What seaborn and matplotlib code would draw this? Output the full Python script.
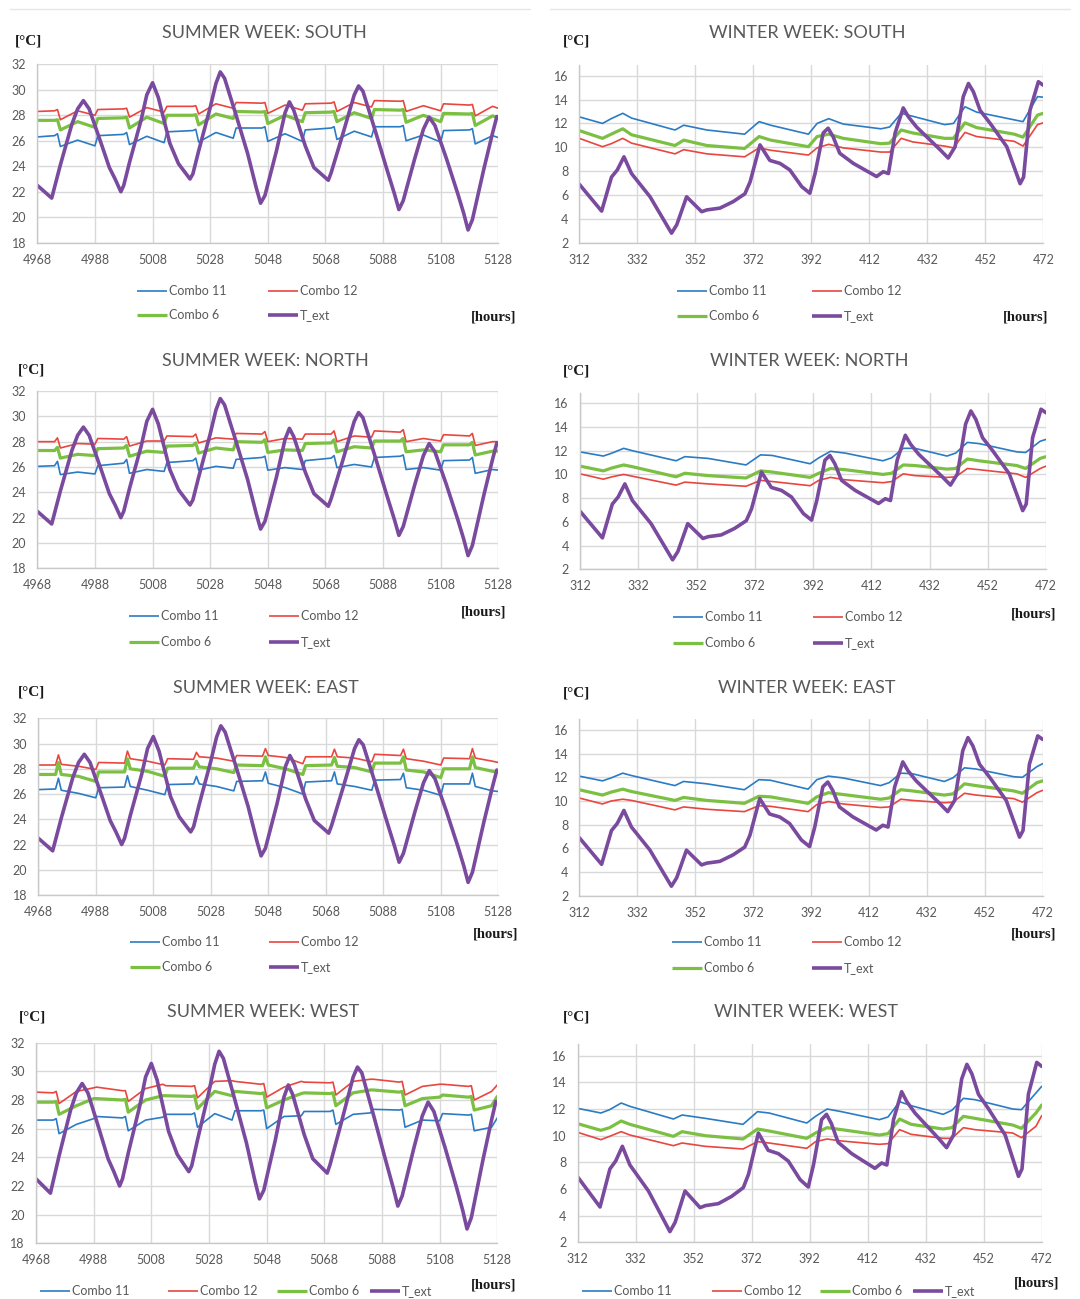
import matplotlib
matplotlib.use("Agg")
import matplotlib.pyplot as plt
from matplotlib.lines import Line2D
import seaborn as sns

sns.set_theme(style="white")
plt.rcParams["font.family"] = ["Lato", "DejaVu Sans"]

# ---------------------------------------------------------------- data
# Outdoor temperature, summer week (hour, degC)
SUMMER_EXT_HOURS = [4968, 4973, 4976, 4980, 4982, 4984, 4986, 4990, 4993, 4995,
                    4997, 4998, 5000, 5004, 5006, 5008, 5010, 5014, 5017, 5019,
                    5021, 5022, 5024, 5028, 5030, 5031.5, 5033, 5037, 5041, 5044,
                    5045.5, 5047, 5051, 5054, 5055.5, 5057, 5061, 5064, 5067, 5069,
                    5070, 5074, 5078, 5079.5, 5081, 5085, 5089, 5092, 5093.5, 5095,
                    5099, 5102, 5104, 5106, 5110, 5114, 5116, 5117.5, 5119, 5123,
                    5126, 5127.5, 5128]
SUMMER_EXT_TEMP = [22.5, 21.5, 24.1, 27.3, 28.5, 29.15, 28.5, 25.9, 23.9, 23.0,
                   22.0, 22.5, 24.3, 27.6, 29.6, 30.55, 29.4, 25.8, 24.2, 23.6,
                   23.0, 23.4, 25.2, 28.6, 30.5, 31.4, 30.9, 28.0, 25.0, 22.3,
                   21.1, 21.7, 25.2, 28.2, 29.05, 28.4, 25.6, 23.9, 23.3, 22.9,
                   23.5, 26.5, 29.6, 30.3, 29.9, 27.0, 24.0, 21.8, 20.6, 21.3,
                   24.6, 26.9, 27.85, 27.2, 24.6, 21.8, 20.3, 19.0, 19.8, 23.8,
                   26.6, 27.9, 27.8]

# Outdoor temperature, winter week (hour, degC)
WINTER_EXT_HOURS = [312, 319.7, 323.1, 325.1, 327.4, 330, 336.4, 343.8, 345.6, 349,
                    354.2, 356, 360.5, 365.1, 369.1, 370.9, 374.3, 377.7, 381.2, 384.6,
                    388.7, 391.5, 393.3, 396.1, 397.8, 399.5, 401.8, 406.5, 414.5, 416.8,
                    418.6, 420.9, 423.7, 425.5, 428.3, 436.4, 439.2, 441.6, 444.4, 446.2,
                    447.9, 450.2, 453.7, 459.4, 464, 465.2, 467.4, 470.3, 472]
WINTER_EXT_TEMP = [6.9, 4.65, 7.5, 8.1, 9.2, 7.8, 5.85, 2.8, 3.5, 5.85,
                   4.6, 4.75, 4.9, 5.45, 6.1, 7.1, 10.2, 8.9, 8.65, 8.1,
                   6.7, 6.15, 7.8, 11.2, 11.6, 10.9, 9.5, 8.65, 7.55, 7.95,
                   7.8, 11.2, 13.3, 12.55, 11.7, 9.8, 9.1, 10.05, 14.25, 15.35,
                   14.65, 13.1, 12.0, 10.05, 6.95, 7.5, 13.1, 15.5, 15.2]

# Indoor temperatures are sampled at these hours
SUMMER_HOURS = [4968,
                4974, 4975, 4976, 4982, 4988, 4989,
                4998, 4999, 5000, 5006, 5012, 5013,
                5022, 5023, 5024, 5030, 5036, 5037,
                5046, 5047, 5048, 5054, 5060, 5061,
                5070, 5071, 5072, 5078, 5084, 5085,
                5094, 5095, 5096, 5102, 5108, 5109,
                5118, 5119, 5120, 5126, 5128]
WINTER_HOURS = [312, 320, 323, 327, 330, 345, 348, 356, 369, 374, 378, 391, 394,
                398, 403, 416, 419, 423, 427, 438, 441, 445, 449, 462, 465, 470, 472]

# Summer, south
summer_south_c11 = [26.3, 26.4, 26.55, 25.55, 26.05, 25.6, 26.4, 26.5, 26.65, 25.7, 26.35, 25.85, 26.7,
                    26.8, 26.9, 25.9, 26.65, 26.2, 27.0, 27.0, 27.1, 25.95, 26.55, 25.95, 26.85,
                    27.0, 27.1, 26.1, 26.75, 26.3, 27.1, 27.1, 27.2, 26.0, 26.45, 25.9, 26.8,
                    26.85, 26.95, 25.75, 26.4, 26.25]
summer_south_c12 = [28.3, 28.35, 28.45, 27.65, 28.35, 28.0, 28.45, 28.5, 28.55, 27.85, 28.6, 28.25, 28.7,
                    28.7, 28.75, 28.1, 28.9, 28.55, 29.0, 28.95, 29.0, 28.15, 28.8, 28.4, 28.9,
                    28.95, 29.05, 28.3, 29.0, 28.65, 29.15, 29.1, 29.15, 28.3, 28.75, 28.35, 28.9,
                    28.8, 28.85, 27.95, 28.7, 28.55]
summer_south_c6 = [27.6, 27.6, 27.65, 26.85, 27.5, 27.05, 27.75, 27.8, 27.85, 27.0, 27.85, 27.35, 28.0,
                   28.0, 28.05, 27.25, 28.1, 27.75, 28.3, 28.25, 28.3, 27.35, 28.0, 27.5, 28.2,
                   28.25, 28.3, 27.5, 28.2, 27.75, 28.45, 28.4, 28.45, 27.45, 28.0, 27.5, 28.15,
                   28.1, 28.15, 27.2, 27.95, 27.8]

# Summer, north
summer_north_c11 = [26.05, 26.1, 26.45, 25.4, 25.6, 25.45, 26.1, 26.3, 26.6, 25.5, 25.8, 25.65, 26.35,
                    26.5, 26.7, 25.75, 26.05, 25.9, 26.6, 26.75, 26.85, 25.75, 25.95, 25.8, 26.5,
                    26.7, 26.9, 25.95, 26.2, 26.0, 26.75, 26.85, 26.95, 25.8, 25.95, 25.75, 26.5,
                    26.55, 26.75, 25.5, 25.8, 25.75]
summer_north_c12 = [28.0, 28.0, 28.3, 27.5, 27.85, 27.8, 28.25, 28.2, 28.4, 27.65, 28.05, 28.05, 28.45,
                    28.4, 28.6, 27.9, 28.3, 28.2, 28.65, 28.6, 28.8, 28.0, 28.25, 28.2, 28.6,
                    28.6, 28.85, 28.0, 28.45, 28.35, 28.85, 28.75, 28.95, 28.0, 28.25, 28.05, 28.55,
                    28.45, 28.65, 27.7, 28.0, 28.0]
summer_north_c6 = [27.3, 27.3, 27.55, 26.7, 27.0, 26.9, 27.45, 27.5, 27.7, 26.85, 27.25, 27.15, 27.65,
                   27.7, 27.9, 27.1, 27.5, 27.35, 28.0, 27.95, 28.15, 27.15, 27.35, 27.3, 27.85,
                   27.9, 28.15, 27.2, 27.6, 27.5, 28.05, 28.05, 28.25, 27.2, 27.35, 27.2, 27.75,
                   27.75, 27.95, 26.95, 27.25, 27.25]

# Summer, east
summer_east_c11 = [26.35, 26.4, 27.25, 26.3, 26.05, 25.7, 26.5, 26.55, 27.45, 26.6, 26.3, 25.95, 26.75,
                   26.8, 27.4, 26.8, 26.6, 26.25, 27.0, 27.05, 27.75, 26.85, 26.5, 26.0, 26.95,
                   27.05, 27.75, 26.8, 26.6, 26.3, 27.1, 27.15, 27.65, 26.5, 26.3, 25.9, 26.8,
                   26.8, 27.65, 26.6, 26.25, 26.2]
summer_east_c12 = [28.3, 28.3, 29.1, 28.35, 28.2, 27.95, 28.5, 28.45, 29.4, 28.8, 28.6, 28.3, 28.8,
                   28.75, 29.3, 28.95, 28.85, 28.6, 29.05, 29.0, 29.6, 29.05, 28.9, 28.4, 28.95,
                   28.95, 29.55, 28.95, 28.85, 28.55, 29.15, 29.05, 29.55, 28.8, 28.6, 28.3, 28.85,
                   28.8, 29.6, 28.85, 28.6, 28.5]
summer_east_c6 = [27.55, 27.55, 28.5, 27.55, 27.4, 27.0, 27.75, 27.75, 28.8, 28.0, 27.8, 27.4, 28.05,
                  28.05, 28.6, 28.15, 28.0, 27.7, 28.3, 28.25, 28.95, 28.3, 28.0, 27.55, 28.25,
                  28.3, 28.9, 28.2, 28.1, 27.75, 28.45, 28.45, 28.95, 27.9, 27.75, 27.3, 28.0,
                  28.0, 28.95, 28.1, 27.8, 27.7]

# Summer, west
summer_west_c11 = [26.6, 26.6, 26.7, 25.65, 26.3, 26.7, 26.85, 26.75, 26.85, 25.85, 26.6, 26.8, 27.0,
                   27.0, 27.1, 26.1, 27.05, 26.6, 27.25, 27.25, 27.3, 26.0, 26.85, 26.9, 27.2,
                   27.2, 27.3, 26.3, 27.0, 27.1, 27.35, 27.3, 27.35, 26.1, 26.6, 26.55, 27.05,
                   26.95, 27.0, 25.85, 26.1, 26.75]
summer_west_c12 = [28.55, 28.5, 28.6, 27.75, 28.6, 28.85, 28.9, 28.65, 28.65, 27.9, 28.8, 29.1, 29.0,
                   28.95, 29.0, 28.15, 29.3, 29.35, 29.3, 29.1, 29.15, 28.2, 28.9, 29.3, 29.25,
                   29.2, 29.25, 28.35, 29.3, 29.45, 29.45, 29.25, 29.3, 28.35, 28.95, 29.1, 29.1,
                   28.95, 29.0, 28.0, 28.6, 29.05]
summer_west_c6 = [27.85, 27.85, 27.9, 27.0, 27.6, 28.1, 28.1, 28.0, 28.05, 27.15, 28.0, 28.3, 28.3,
                  28.25, 28.3, 27.4, 28.6, 28.3, 28.6, 28.45, 28.5, 27.45, 28.0, 28.45, 28.5,
                  28.45, 28.5, 27.6, 28.5, 28.7, 28.7, 28.55, 28.6, 27.6, 28.1, 28.2, 28.35,
                  28.2, 28.25, 27.3, 27.6, 28.25]

# Winter, south
winter_south_c11 = [12.55, 12.0, 12.4, 12.85, 12.45, 11.45, 11.85, 11.45, 11.1, 12.15, 11.85, 11.1, 12.0,
                    12.4, 11.95, 11.55, 11.7, 12.85, 12.6, 11.9, 12.0, 13.4, 12.95, 12.3, 12.15, 14.25, 14.2]
winter_south_c12 = [10.75, 10.05, 10.3, 10.75, 10.35, 9.45, 9.8, 9.45, 9.2, 9.95, 9.75, 9.35, 9.95,
                    10.25, 9.95, 9.6, 9.6, 10.75, 10.45, 10.1, 9.95, 11.25, 10.9, 10.5, 10.1, 11.9, 12.05]
winter_south_c6 = [11.4, 10.75, 11.1, 11.55, 11.05, 10.15, 10.6, 10.15, 9.9, 10.9, 10.6, 10.05, 10.9,
                   11.1, 10.75, 10.3, 10.35, 11.45, 11.2, 10.75, 10.75, 12.05, 11.65, 11.1, 10.85, 12.7, 12.85]

# Winter, north
winter_north_c11 = [11.9, 11.55, 11.8, 12.2, 12.0, 11.15, 11.5, 11.35, 10.8, 11.65, 11.6, 10.9, 11.4,
                    11.95, 11.8, 11.15, 11.4, 12.2, 12.2, 11.55, 11.8, 12.7, 12.6, 11.9, 11.85, 12.8, 12.95]
winter_north_c12 = [10.05, 9.6, 9.8, 10.0, 9.85, 9.1, 9.35, 9.2, 9.0, 9.5, 9.4, 9.05, 9.5,
                    9.75, 9.55, 9.3, 9.4, 10.05, 9.9, 9.75, 9.8, 10.5, 10.4, 10.05, 9.75, 10.5, 10.7]
winter_north_c6 = [10.7, 10.3, 10.55, 10.8, 10.65, 9.8, 10.1, 9.9, 9.7, 10.3, 10.2, 9.75, 10.1,
                   10.5, 10.4, 10.0, 10.1, 10.8, 10.75, 10.45, 10.5, 11.3, 11.15, 10.75, 10.5, 11.35, 11.5]

# Winter, east
winter_east_c11 = [12.1, 11.7, 11.95, 12.35, 12.15, 11.3, 11.65, 11.45, 10.95, 11.8, 11.75, 11.0, 11.8,
                   12.1, 11.95, 11.3, 11.55, 12.35, 12.3, 11.65, 11.95, 12.8, 12.7, 12.05, 12.0, 12.9, 13.15]
winter_east_c12 = [10.25, 9.75, 10.0, 10.15, 10.05, 9.25, 9.5, 9.3, 9.1, 9.6, 9.55, 9.1, 9.7,
                   9.95, 9.75, 9.45, 9.5, 10.15, 10.05, 9.85, 9.9, 10.65, 10.5, 10.2, 9.9, 10.7, 10.9]
winter_east_c6 = [10.95, 10.5, 10.75, 11.0, 10.8, 10.05, 10.3, 10.05, 9.8, 10.4, 10.35, 9.8, 10.35,
                  10.7, 10.55, 10.15, 10.25, 10.95, 10.85, 10.5, 10.6, 11.45, 11.3, 10.85, 10.65, 11.55, 11.7]

# Winter, west
winter_west_c11 = [12.05, 11.7, 11.95, 12.45, 12.2, 11.25, 11.55, 11.3, 10.85, 11.8, 11.7, 10.95, 11.45,
                   12.0, 11.8, 11.2, 11.4, 12.55, 12.25, 11.6, 11.9, 12.8, 12.7, 12.0, 11.95, 13.2, 13.7]
winter_west_c12 = [10.25, 9.7, 9.95, 10.3, 10.05, 9.25, 9.45, 9.2, 9.0, 9.55, 9.45, 9.05, 9.55,
                   9.75, 9.6, 9.35, 9.4, 10.45, 10.1, 9.8, 9.8, 10.6, 10.45, 10.2, 9.85, 10.7, 11.5]
winter_west_c6 = [10.9, 10.4, 10.6, 11.1, 10.85, 9.95, 10.3, 10.0, 9.75, 10.5, 10.35, 9.8, 10.2,
                  10.6, 10.45, 10.05, 10.15, 11.25, 10.85, 10.5, 10.6, 11.45, 11.3, 10.8, 10.55, 11.7, 12.3]

SERIES_LABELS = ["Combo 11", "Combo 12", "Combo 6", "T_ext"]
SUMMER_XTICKS = [4968, 4988, 5008, 5028, 5048, 5068, 5088, 5108, 5128]
WINTER_XTICKS = [312, 332, 352, 372, 392, 412, 432, 452, 472]
SUMMER_YTICKS = [18, 20, 22, 24, 26, 28, 30, 32]
WINTER_YTICKS = [2, 4, 6, 8, 10, 12, 14, 16]

# ---------------------------------------------------------------- style
COLORS = {"Combo 11": "#2b7bc4", "Combo 12": "#e8463f",
          "Combo 6": "#7cc043", "T_ext": "#7a4a9e"}
WIDTHS = {"Combo 11": 1.2, "Combo 12": 1.2, "Combo 6": 2.3, "T_ext": 2.6}
GRID = "#d9d9d9"
TEXT = "#595959"

W, H = 1080, 1299
fig = plt.figure(figsize=(W / 100, H / 100), dpi=100)


def fx(px):
    return px / W


def fy(py):
    return 1 - py / H


def legend_entry(x, y, label):
    fig.add_artist(Line2D([fx(x), fx(x + 30)], [fy(y), fy(y)], color=COLORS[label],
                          lw=WIDTHS[label], transform=fig.transFigure,
                          solid_capstyle="butt"))
    fig.text(fx(x + 32), fy(y), label, ha="left", va="center", fontsize=9, color=TEXT)


panels = [
    dict(title="SUMMER WEEK: SOUTH", season="summer", box=(37.3, 498.3, 64.3, 242.7),
         title_xy=(264.5, 33), unit_xy=(28.7, 41), hours_xy=(516, 317),
         data=(summer_south_c11, summer_south_c12, summer_south_c6),
         legend=[(137, 291, "Combo 11"), (268, 291, "Combo 12"),
                 (137, 315, "Combo 6"), (268, 315, "T_ext")]),
    dict(title="WINTER WEEK: SOUTH", season="winter", box=(579.3, 1043.3, 65.0, 242.7),
         title_xy=(807, 33), unit_xy=(576.3, 41), hours_xy=(1048.3, 317),
         data=(winter_south_c11, winter_south_c12, winter_south_c6),
         legend=[(677, 291, "Combo 11"), (812, 291, "Combo 12"),
                 (677, 316, "Combo 6"), (812, 316, "T_ext")]),
    dict(title="SUMMER WEEK: NORTH", season="summer", box=(37.3, 498.3, 391.0, 568.3),
         title_xy=(265, 361), unit_xy=(31.7, 370), hours_xy=(506, 611.7),
         data=(summer_north_c11, summer_north_c12, summer_north_c6),
         legend=[(129, 615.7, "Combo 11"), (269, 615.7, "Combo 12"),
                 (129, 641.7, "Combo 6"), (269, 641.7, "T_ext")]),
    dict(title="WINTER WEEK: NORTH", season="winter", box=(580.0, 1046.0, 392.6, 569.3),
         title_xy=(809, 361), unit_xy=(576, 370.7), hours_xy=(1056.7, 614.3),
         data=(winter_north_c11, winter_north_c12, winter_north_c6),
         legend=[(672.7, 616.7, "Combo 11"), (812.7, 616.7, "Combo 12"),
                 (672.7, 642.7, "Combo 6"), (812.7, 642.7, "T_ext")]),
    dict(title="SUMMER WEEK: EAST", season="summer", box=(38.3, 498.3, 718.3, 895.0),
         title_xy=(266, 687.7), unit_xy=(31.7, 692.3), hours_xy=(518.3, 934),
         data=(summer_east_c11, summer_east_c12, summer_east_c6),
         legend=[(130, 941.7, "Combo 11"), (269, 941.7, "Combo 12"),
                 (130, 967.3, "Combo 6"), (269, 967.3, "T_ext")]),
    dict(title="WINTER WEEK: EAST", season="winter", box=(579.3, 1042.7, 719.3, 895.7),
         title_xy=(807, 687.7), unit_xy=(576, 692.7), hours_xy=(1056.7, 934),
         data=(winter_east_c11, winter_east_c12, winter_east_c6),
         legend=[(671.7, 942.3, "Combo 11"), (811.7, 942.3, "Combo 12"),
                 (671.7, 968.3, "Combo 6"), (811.7, 968.3, "T_ext")]),
    dict(title="SUMMER WEEK: WEST", season="summer", box=(36.0, 497.3, 1042.7, 1243.3),
         title_xy=(263, 1012.3), unit_xy=(33, 1017.3), hours_xy=(516.7, 1285),
         data=(summer_west_c11, summer_west_c12, summer_west_c6),
         legend=[(40, 1290.7, "Combo 11"), (168, 1290.7, "Combo 12"),
                 (277, 1290.7, "Combo 6"), (370, 1290.7, "T_ext")]),
    dict(title="WINTER WEEK: WEST", season="winter", box=(577.7, 1041.7, 1043.7, 1242.3),
         title_xy=(806, 1012.3), unit_xy=(576.3, 1017.3), hours_xy=(1059, 1283.3),
         data=(winter_west_c11, winter_west_c12, winter_west_c6),
         legend=[(581.7, 1290.7, "Combo 11"), (711.7, 1290.7, "Combo 12"),
                 (820, 1290.7, "Combo 6"), (913, 1290.7, "T_ext")]),
]

for p in panels:
    x0, x1, ytop, ybot = p["box"]
    ax = fig.add_axes([fx(x0), fy(ybot), fx(x1 - x0), (ybot - ytop) / H])
    if p["season"] == "summer":
        hours, ext_h, ext_t = SUMMER_HOURS, SUMMER_EXT_HOURS, SUMMER_EXT_TEMP
        xt, yt, ylim = SUMMER_XTICKS, SUMMER_YTICKS, (18, 32)
    else:
        hours, ext_h, ext_t = WINTER_HOURS, WINTER_EXT_HOURS, WINTER_EXT_TEMP
        xt, yt, ylim = WINTER_XTICKS, WINTER_YTICKS, (2, 16.9)

    c11, c12, c6 = p["data"]
    for label, xs, ys in [("Combo 11", hours, c11), ("Combo 12", hours, c12),
                          ("Combo 6", hours, c6), ("T_ext", ext_h, ext_t)]:
        sns.lineplot(x=xs, y=ys, ax=ax, color=COLORS[label], linewidth=WIDTHS[label],
                     legend=False, sort=False)

    ax.set_xlim(xt[0], xt[-1])
    ax.set_ylim(*ylim)
    ax.set_xticks(xt)
    ax.set_yticks(yt)
    ax.set_xlabel("")
    ax.set_ylabel("")
    ax.grid(True, color=GRID, linewidth=1.0)
    ax.set_axisbelow(True)
    for side in ("top", "right"):
        ax.spines[side].set_visible(False)
    for side in ("left", "bottom"):
        ax.spines[side].set_color("#c8c8c8")
        ax.spines[side].set_linewidth(1.0)
    ax.tick_params(length=0, pad=8, labelsize=9, labelcolor=TEXT)

    tx, ty = p["title_xy"]
    fig.text(fx(tx), fy(ty), p["title"], ha="center", va="center",
             fontsize=13, color=TEXT)
    ux, uy = p["unit_xy"]
    fig.text(fx(ux), fy(uy), "[°C]", ha="center", va="center", fontsize=11,
             family="Liberation Serif", weight="bold", color="#1a1a1a")
    hx, hy = p["hours_xy"]
    fig.text(fx(hx), fy(hy), "[hours]", ha="right", va="center", fontsize=10.5,
             family="Liberation Serif", weight="bold", color="#1a1a1a")
    for lx, ly, lab in p["legend"]:
        legend_entry(lx, ly, lab)

# thin separators along the top edge
for xa, xb in [(10, 530), (550, 1070)]:
    fig.add_artist(Line2D([fx(xa), fx(xb)], [fy(9.3), fy(9.3)], color="#e6e6e6",
                          lw=1.0, transform=fig.transFigure))

fig.savefig("out.png", dpi=100, facecolor="white")
